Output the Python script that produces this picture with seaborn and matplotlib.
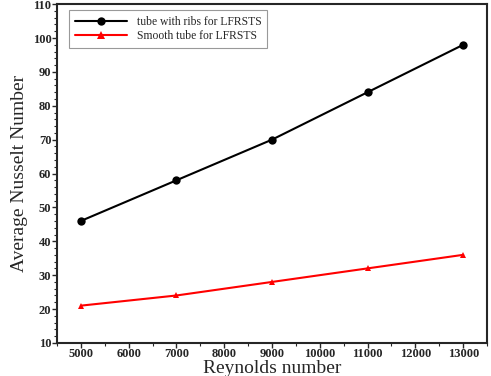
import matplotlib.pyplot as plt
import seaborn as sns
import pandas as pd
from matplotlib.ticker import MultipleLocator

reynolds = [5000, 7000, 9000, 11000, 13000]
nu_ribs = [46, 58, 70, 84, 98]
nu_smooth = [21, 24, 28, 32, 36]
labels = ['tube with ribs for LFRSTS', 'Smooth tube for LFRSTS']

df = pd.DataFrame({
    'Re': reynolds * 2,
    'Nu': nu_ribs + nu_smooth,
    'case': [labels[0]] * 5 + [labels[1]] * 5,
})

sns.set_style('ticks')
plt.rcParams['font.family'] = ['Liberation Serif', 'DejaVu Serif']

fig = plt.figure(figsize=(4.91, 3.76), dpi=100)
ax = fig.add_axes([0.116, 0.088, 0.876, 0.901])

sns.lineplot(data=df, x='Re', y='Nu', hue='case', style='case',
             palette=['black', 'red'], markers=['o', '^'], dashes=False,
             markersize=6, markeredgewidth=0, linewidth=1.5, ax=ax)
ax.lines[1].set_markersize(5)

ax.set_xlim(4500, 13500)
ax.set_ylim(10, 110)
ax.set_xticks(reynolds + [6000, 8000, 10000, 12000])
ax.xaxis.set_minor_locator(MultipleLocator(500))
ax.yaxis.set_major_locator(MultipleLocator(10))
ax.yaxis.set_minor_locator(MultipleLocator(2))
ax.tick_params(which='major', length=3.5, width=1, direction='out', pad=0.5)
ax.tick_params(which='minor', length=2, width=0.8, direction='out')
for lab in ax.get_xticklabels() + ax.get_yticklabels():
    lab.set_fontweight('bold')
    lab.set_fontsize(9)
for s in ax.spines.values():
    s.set_linewidth(1.5)

ax.set_xlabel('Reynolds number', fontsize=14, va='baseline')
ax.xaxis.set_label_coords(0.5, -0.09)
ax.set_ylabel('Average Nusselt Number', fontsize=14, labelpad=3)

leg = ax.legend(loc='upper left', bbox_to_anchor=(0.028, 0.982), fontsize=8.4,
                frameon=True, fancybox=False, edgecolor='gray',
                handlelength=4.5, borderpad=0.5, labelspacing=0.2,
                borderaxespad=0)
leg.get_frame().set_linewidth(0.8)
for h in leg.legend_handles:
    h.set_linewidth(1.5)

plt.savefig('out.png', dpi=100)
